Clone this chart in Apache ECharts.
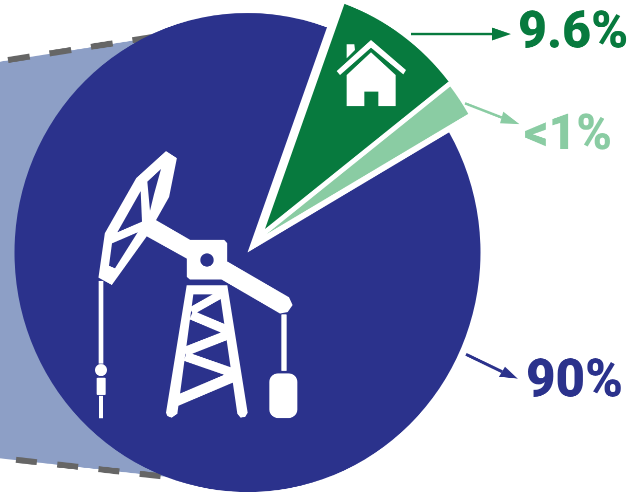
<!DOCTYPE html>
<html>
<head>
<meta charset="utf-8">
<style>
html,body{margin:0;padding:0;background:#fff;overflow:hidden;width:643px;height:492px}
#c{position:absolute;left:0;top:0;width:643px;height:479px;transform-origin:0 0;}
</style>
<script src="https://cdn.jsdelivr.net/npm/echarts@6/dist/echarts.min.js"></script>
</head>
<body>
<div id="c"></div>
<script>
// Slices, as drawn (share of the circle) and as labelled
const categories = ['Oil and gas', 'Homes', 'Other'];
const sliceShares = [88.9, 8.9, 2.2];
const shareLabels = ['90%', '9.6%', '<1%'];
const sliceColors = ['#2b328c', '#077a3e', '#8accA3'];

// The reference is stretched vertically by this ratio (ellipse 233 x 239.5)
const k = 1.0279;
document.getElementById('c').style.transform = 'scaleY(' + k + ')';
const Y = y => y / k;

const R = 233;
const base = 30.1;
const sweep = sliceShares.map(s => s * 3.6);
const pieCenters = [[247.5, Y(252.5)], [265, Y(229)], [266.7, Y(234)]];
const starts = [base, base + sweep[2] + sweep[1], base + sweep[2]];

const series = categories.map((name, i) => ({
  type: 'pie', silent: true, animation: false, z: 2,
  radius: [0, R], center: pieCenters[i], startAngle: starts[i],
  clockwise: true, label: { show: false }, labelLine: { show: false },
  data: [
    { name, value: sliceShares[i], itemStyle: { color: sliceColors[i] } },
    { name: 'rest', value: 100 - sliceShares[i], itemStyle: { color: 'rgba(0,0,0,0)' } }
  ]
}));

const W = '#ffffff', D = sliceColors[0];
const poly = (points, fill, extra) => Object.assign({ type: 'polygon', z: 10, shape: { points },
  style: { fill, stroke: fill, lineWidth: 3, lineJoin: 'round' } }, extra || {});
const bar = (a, b, w, extra) => Object.assign({ type: 'line', z: 10,
  shape: { x1: a[0], y1: a[1], x2: b[0], y2: b[1] },
  style: { stroke: W, lineWidth: w, lineCap: 'butt' } }, extra || {});
const box = (x, y, width, height, r, fill) => ({ type: 'rect', z: 10, shape: { x, y, width, height, r }, style: { fill: fill || W } });
const circ = (cx, cy, r, fill) => ({ type: 'circle', z: 11, shape: { cx, cy, r }, style: { fill } });
const arrow = (p0, p1, h1, h2, color, w) => [
  { type: 'line', z: 10, shape: { x1: p0[0], y1: p0[1], x2: (h1[0] + h2[0]) / 2, y2: (h1[1] + h2[1]) / 2 }, style: { stroke: color, lineWidth: w } },
  { type: 'polygon', z: 10, shape: { points: [p1, h1, h2] }, style: { fill: color } }
];

const jack = [
  poly([[228,20],[259,40],[236,155],[196,226],[300,286],[402,286],[410,295],[410,350],[596,458],[606,480],[592,500],[570,504],[395,402],[300,402],[292,395],[292,340],[170,272],[65,418],[27,397],[46,265],[140,100]], W),
  poly([[213,72],[172,110],[180,197],[192,148]], D, { z: 11, style: { fill: D } }),
  poly([[152,138],[82,262],[156,230]], D, { z: 11, style: { fill: D } }),
  poly([[143,262],[66,295],[57,362],[75,370]], D, { z: 11, style: { fill: D } }),
  circ(351, 345, 20, D),
  box(26, 408, 14, 248, 0), { type: 'circle', z: 10, shape: { cx: 33, cy: 675, r: 18 }, style: { fill: W } },
  box(20, 698, 27, 52, 3), box(27, 752, 12, 68, 0),
  box(574, 508, 16, 170, 2), box(538, 685, 84, 134, 26),
  // derrick
  { type: 'polygon', z: 10, shape: { points: [[290,421],[412,421],[473,803],[466,815],[452,818],[442,806],[390,448],[310,448],[262,806],[245,818],[232,813],[228,803]] }, style: { fill: W } },
  bar([396, 446], [304, 498], 24), bar([304, 510], [408, 554], 28),
  bar([412, 570], [284, 620], 28), bar([286, 634], [424, 682], 28),
  bar([432, 694], [258, 768], 32)
];
const house = [
  { type: 'polygon', z: 10, shape: { points: [[35,120],[108,52],[182,120],[182,213],[130,213],[130,170],[88,170],[88,213],[35,213]] }, style: { fill: W } },
  { type: 'polygon', z: 10, shape: { points: [[5,108],[108,15],[213,105],[205,118],[108,38],[15,120]] }, style: { fill: W } },
  { type: 'polygon', z: 10, shape: { points: [[35,28],[58,28],[60,45],[35,70]] }, style: { fill: W } }
];

const labelText = (i, x, yMid, size) => ({
  type: 'text', z: 12, x, y: Y(yMid),
  style: { text: shareLabels[i], fill: sliceColors[i], font: '900 ' + size + 'px Roboto', textAlign: 'left', textVerticalAlign: 'middle' }
});

const option = {
  animation: false,
  series,
  graphic: { elements: [
    { type: 'group', scaleY: 1 / k, children: [
      { type: 'polygon', z: 0, shape: { points: [[0,61.7],[200,30],[200,480.6],[0,458.3]] }, style: { fill: '#8d9fc6' } },
      { type: 'line', z: 1, shape: { x1: 8, y1: 60, x2: 200, y2: 29.5 }, style: { stroke: '#666666', lineWidth: 6, lineDash: [22, 20] } },
      { type: 'line', z: 1, shape: { x1: 16, y1: 459.8, x2: 200, y2: 480.6 }, style: { stroke: '#666666', lineWidth: 6, lineDash: [21, 20.5] } },
      { type: 'group', x: 90, y: 145, scaleX: 1 / 3, scaleY: 1 / 3, children: jack },
      { type: 'group', x: 335, y: 35, scaleX: 1 / 3, scaleY: 1 / 3, children: house },
      ...arrow([411, 34], [511, 34], [492, 27.5], [492, 40.5], sliceColors[1], 2.4),
      ...arrow([465, 103.3], [519.3, 124], [503.3, 111.7], [500, 123.3], sliceColors[2], 2.6),
      ...arrow([466, 354.3], [517.7, 378.7], [505, 366.7], [499, 376.7], sliceColors[0], 3)
    ] },
    labelText(1, 518, 34.5, 50),
    labelText(2, 524, 136.5, 48),
    labelText(0, 526, 383, 51)
  ] }
};
const chart = echarts.init(document.getElementById('c'), null, { renderer: 'canvas', devicePixelRatio: 2, width: 643, height: 479 });
chart.setOption(option);
</script>
</body>
</html>
